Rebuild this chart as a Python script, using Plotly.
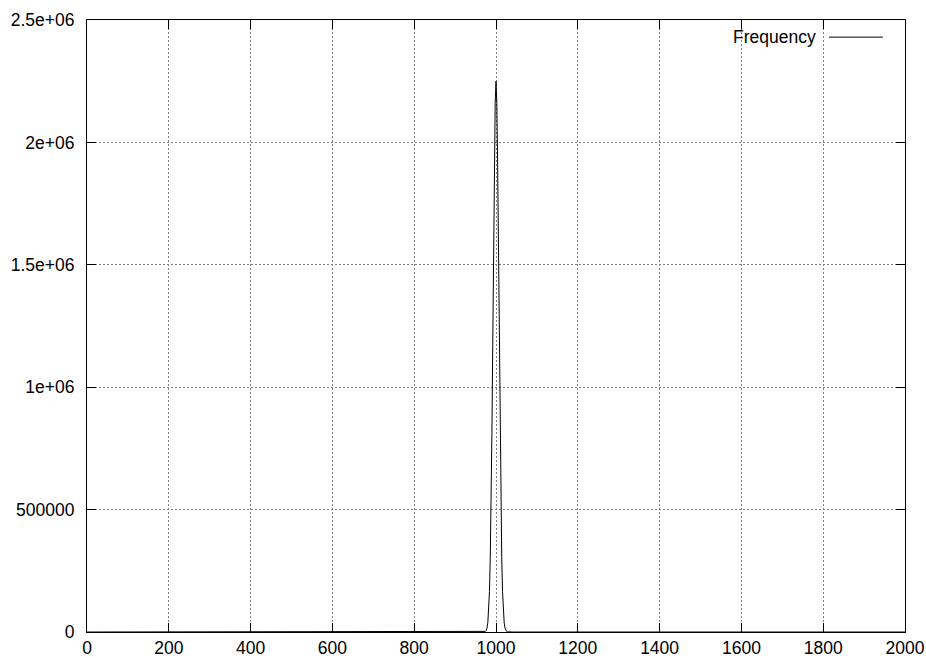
import plotly.graph_objects as go

# Data (Frequency distribution, peak near 1000)
freq_x = [0, 960, 970, 972, 974, 976, 978, 980, 982, 984, 986, 988, 990, 992, 994, 996, 998,
          1000, 1002, 1004, 1006, 1008, 1010, 1012, 1014, 1016, 1018, 1020, 1022, 1024, 1026,
          1028, 1030, 1040, 2000]
freq_y = [0, 0, 300, 900, 2500, 6500, 16000, 38000, 83000, 165000, 305000, 520000, 810000,
          1170000, 1560000, 1910000, 2160000,
          2250000, 2160000, 1910000, 1560000, 1170000, 810000, 520000, 305000, 165000, 83000,
          38000, 16000, 6500, 2500, 900, 300, 0, 0]

x_ticks = [0, 200, 400, 600, 800, 1000, 1200, 1400, 1600, 1800, 2000]
y_ticks = [0, 500000, 1000000, 1500000, 2000000, 2500000]
y_tick_labels = ["0", "500000", "1e+06", "1.5e+06", "2e+06", "2.5e+06"]
series_name = "Frequency"

FONT = "Liberation Sans, Arial, Helvetica, sans-serif"
FS = 17.5

fig = go.Figure()
fig.add_trace(go.Scatter(x=freq_x, y=freq_y, mode="lines", name=series_name,
                         line=dict(color="black", width=1), showlegend=False))

axis_common = dict(
    showline=True, linecolor="black", linewidth=1, mirror="allticks",
    ticks="inside", ticklen=9, tickcolor="black", tickwidth=1,
    showgrid=True, gridcolor="#808080", gridwidth=1, griddash="2px,2px",
    zeroline=False, automargin=False, ticklabeloverflow="allow",
    tickfont=dict(family=FONT, size=FS, color="black"),
)

fig.update_xaxes(range=[0, 2000], tickvals=x_ticks, ticktext=[str(v) for v in x_ticks],
                 ticklabelstandoff=0, **axis_common)
fig.update_yaxes(range=[0, 2500000], tickvals=y_ticks, ticktext=y_tick_labels,
                 ticklabelstandoff=8, **axis_common)

# gnuplot-style key: text on the left, line sample on the right
fig.add_annotation(xref="paper", yref="paper", x=0.894, y=0.972, xanchor="right", yanchor="middle",
                   text=series_name, showarrow=False,
                   font=dict(family=FONT, size=FS, color="black"))
fig.add_shape(type="line", xref="paper", yref="paper", x0=0.907, x1=0.973, y0=0.972, y1=0.972,
              line=dict(color="black", width=1))

fig.update_layout(
    width=926, height=658,
    margin=dict(l=87, r=21, t=20, b=26),
    paper_bgcolor="white", plot_bgcolor="white",
    font=dict(family=FONT, size=FS, color="black"),
)

fig.write_html("out.html", config={"displayModeBar": False},
               post_script="document.body.style.margin='0';document.body.style.overflow='hidden';")
